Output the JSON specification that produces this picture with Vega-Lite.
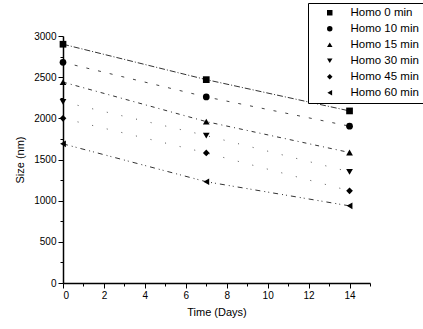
{
  "$schema": "https://vega.github.io/schema/vega-lite/v6.json",
  "width": 307,
  "height": 247,
  "autosize": "none",
  "padding": {"left": 63, "top": 36, "right": 53, "bottom": 46},
  "background": "white",
  "config": {
    "view": {"stroke": null},
    "font": "Liberation Sans",
    "axis": {"grid": false, "domainColor": "black", "tickColor": "black", "labelColor": "black", "titleColor": "black", "labelFont": "Liberation Sans", "titleFont": "Liberation Sans", "titleFontWeight": "normal", "labelFontSize": 10, "titleFontSize": 11, "domainWidth": 1.5, "tickWidth": 1}
  },
  "data": {
    "values": [
      {"series": "Homo 0 min", "day": 0, "size": 2900},
      {"series": "Homo 0 min", "day": 7, "size": 2470},
      {"series": "Homo 0 min", "day": 14, "size": 2090},
      {"series": "Homo 10 min", "day": 0, "size": 2680},
      {"series": "Homo 10 min", "day": 7, "size": 2260},
      {"series": "Homo 10 min", "day": 14, "size": 1905},
      {"series": "Homo 15 min", "day": 0, "size": 2440},
      {"series": "Homo 15 min", "day": 7, "size": 1960},
      {"series": "Homo 15 min", "day": 14, "size": 1585},
      {"series": "Homo 30 min", "day": 0, "size": 2200},
      {"series": "Homo 30 min", "day": 7, "size": 1790},
      {"series": "Homo 30 min", "day": 14, "size": 1350},
      {"series": "Homo 45 min", "day": 0, "size": 2000},
      {"series": "Homo 45 min", "day": 7, "size": 1580},
      {"series": "Homo 45 min", "day": 14, "size": 1120},
      {"series": "Homo 60 min", "day": 0, "size": 1690},
      {"series": "Homo 60 min", "day": 7, "size": 1230},
      {"series": "Homo 60 min", "day": 14, "size": 937}
    ]
  },
  "encoding": {
    "x": {"field": "day", "type": "quantitative", "scale": {"domain": [0, 15], "nice": false}, "axis": {"title": "Time (Days)", "values": [0,1,2,3,4,5,6,7,8,9,10,11,12,13,14,15], "labelExpr": "datum.value % 2 === 0 && datum.value < 15 ? datum.label : ''", "tickSize": {"condition": {"test": "datum.value % 2 === 0", "value": 5}, "value": 3}, "labelPadding": 2, "titlePadding": 6}},
    "y": {"field": "size", "type": "quantitative", "scale": {"domain": [0, 3000], "nice": false}, "axis": {"title": "Size (nm)", "values": [0,250,500,750,1000,1250,1500,1750,2000,2250,2500,2750,3000], "labelExpr": "datum.value % 500 === 0 ? datum.label : ''", "format": "d", "tickSize": {"condition": {"test": "datum.value % 500 === 0", "value": 5}, "value": 3}, "labelPadding": 2, "titlePadding": 8}}
  },
  "layer": [
    {"transform": [{"filter": "datum.series === 'Homo 0 min'"}], "mark": {"type": "line", "color": "#333333", "strokeWidth": 1, "strokeDash": [6,2,1,2]}, "encoding": {}},
    {"transform": [{"filter": "datum.series === 'Homo 10 min'"}], "mark": {"type": "line", "color": "#444444", "strokeWidth": 1, "strokeDash": [3,9]}, "encoding": {}},
    {"transform": [{"filter": "datum.series === 'Homo 15 min'"}], "mark": {"type": "line", "color": "#333333", "strokeWidth": 1, "strokeDash": [4,4,1,4]}, "encoding": {}},
    {"transform": [{"filter": "datum.series === 'Homo 30 min'"}], "mark": {"type": "line", "color": "#555555", "strokeWidth": 1, "strokeDash": [1,14]}, "encoding": {}},
    {"transform": [{"filter": "datum.series === 'Homo 45 min'"}], "mark": {"type": "line", "color": "#555555", "strokeWidth": 1, "strokeDash": [1,14]}, "encoding": {}},
    {"transform": [{"filter": "datum.series === 'Homo 60 min'"}], "mark": {"type": "line", "color": "#333333", "strokeWidth": 1, "strokeDash": [5,4,1,3,1,4]}, "encoding": {}},
    {
      "mark": {"type": "point", "filled": true, "color": "black", "opacity": 1, "size": 45},
      "encoding": {
        "shape": {"field": "series", "type": "nominal", "scale": {"domain": ["Homo 0 min","Homo 10 min","Homo 15 min","Homo 30 min","Homo 45 min","Homo 60 min"], "range": ["square","circle","triangle-up","triangle-down","diamond","triangle-left"]},
          "legend": {"title": null, "orient": "none", "legendX": 245, "legendY": -33, "labelFontSize": 11.5, "labelFont": "Liberation Sans", "labelColor": "black", "symbolSize": 30, "symbolFillColor": "black", "symbolStrokeColor": "black", "rowPadding": 3, "padding": 4, "strokeColor": "black", "fillColor": "white", "symbolOffset": 12, "labelOffset": 15}}
      }
    }
  ]
}
